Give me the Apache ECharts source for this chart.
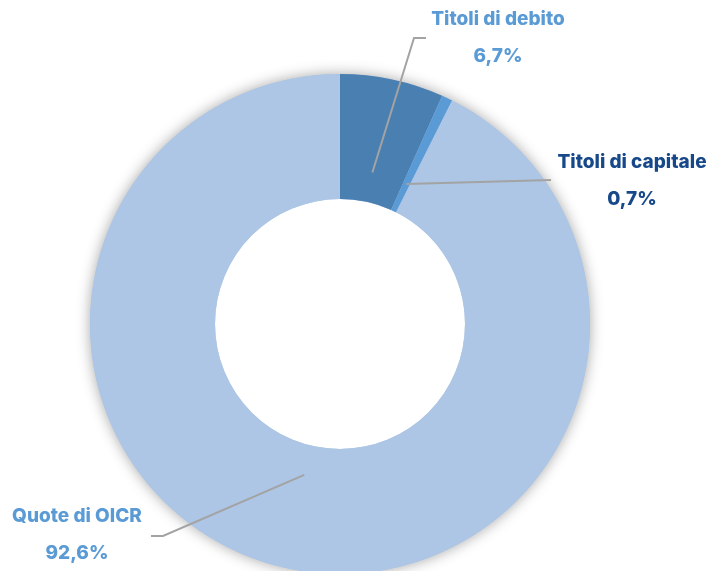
<!DOCTYPE html>
<html><head><meta charset="utf-8">
<script src="https://cdn.jsdelivr.net/npm/echarts@6/dist/echarts.min.js"></script>
<style>html,body{margin:0;padding:0;background:#fff}#c{width:709px;height:571px}</style>
</head><body><div id="c"></div>
<script>
const categories = ['Titoli di debito', 'Titoli di capitale', 'Quote di OICR'];
const values = [6.7, 0.7, 92.6];
const valueLabels = ['6,7%', '0,7%', '92,6%'];

const sliceColors = ['#4a7fb1', '#5b9bd5', '#adc6e5'];
const labelColors = ['#5b9bd5', '#17498a', '#5b9bd5'];
const labelPos = [[498, 38], [632, 181], [77, 535]];
const lineEnds = [[[414, 38], [426, 38]], [[551, 180], [551, 180]], [[163, 536], [151, 536]]];
const CX = 340, CY = 324, R_IN = 125, R_OUT = 250, R_LINE = 155;

const chart = echarts.init(document.getElementById('c'), null, {renderer: 'canvas'});
chart.setOption({
  animation: false,
  series: [
    {
      type: 'pie', silent: true, z: 1,
      center: [CX, CY], radius: [0, R_OUT],
      label: {show: false}, labelLine: {show: false},
      itemStyle: {color: '#adc6e5', shadowBlur: 14, shadowColor: 'rgba(0,0,0,0.35)'},
      data: [{value: 1, name: 'bg'}]
    },
    {
      type: 'pie', silent: true, z: 2,
      center: [CX, CY], radius: [0, R_IN],
      label: {show: false}, labelLine: {show: false},
      itemStyle: {color: '#ffffff'},
      data: [{value: 1, name: 'hole'}]
    },
    {
      type: 'pie', z: 3,
      center: [CX, CY], radius: [R_IN, R_OUT],
      startAngle: 90, clockwise: true,
      label: {show: false}, labelLine: {show: false},
      data: categories.map((c, i) => ({
        name: c, value: values[i],
        itemStyle: {color: sliceColors[i]}
      }))
    },
    {
      type: 'pie', z: 4, silent: true,
      center: [CX, CY], radius: [R_IN, R_OUT],
      startAngle: 90, clockwise: true,
      itemStyle: {color: 'rgba(0,0,0,0)'},
      data: categories.map((c, i) => ({
        name: c, value: values[i],
        label: {color: labelColors[i]}
      })),
      label: {
        show: true, position: 'outside', overflow: 'none', width: 300,
        fontFamily: 'Inter', fontWeight: 800, fontSize: 19,
        lineHeight: 37, align: 'center',
        formatter: p => p.name + '\n' + valueLabels[p.dataIndex]
      },
      labelLine: {show: true, lineStyle: {color: '#a3a3a3', width: 2}},
      labelLayout: function (params) {
        const i = params.dataIndex;
        const p0 = params.labelLinePoints[0];
        const dx = p0[0] - CX, dy = p0[1] - CY;
        const d = Math.sqrt(dx * dx + dy * dy);
        const start = [CX + dx / d * R_LINE, CY + dy / d * R_LINE];
        return {
          x: labelPos[i][0], y: labelPos[i][1],
          align: 'center', verticalAlign: 'middle',
          labelLinePoints: [start, lineEnds[i][0], lineEnds[i][1]]
        };
      }
    }
  ]
});
</script></body></html>
